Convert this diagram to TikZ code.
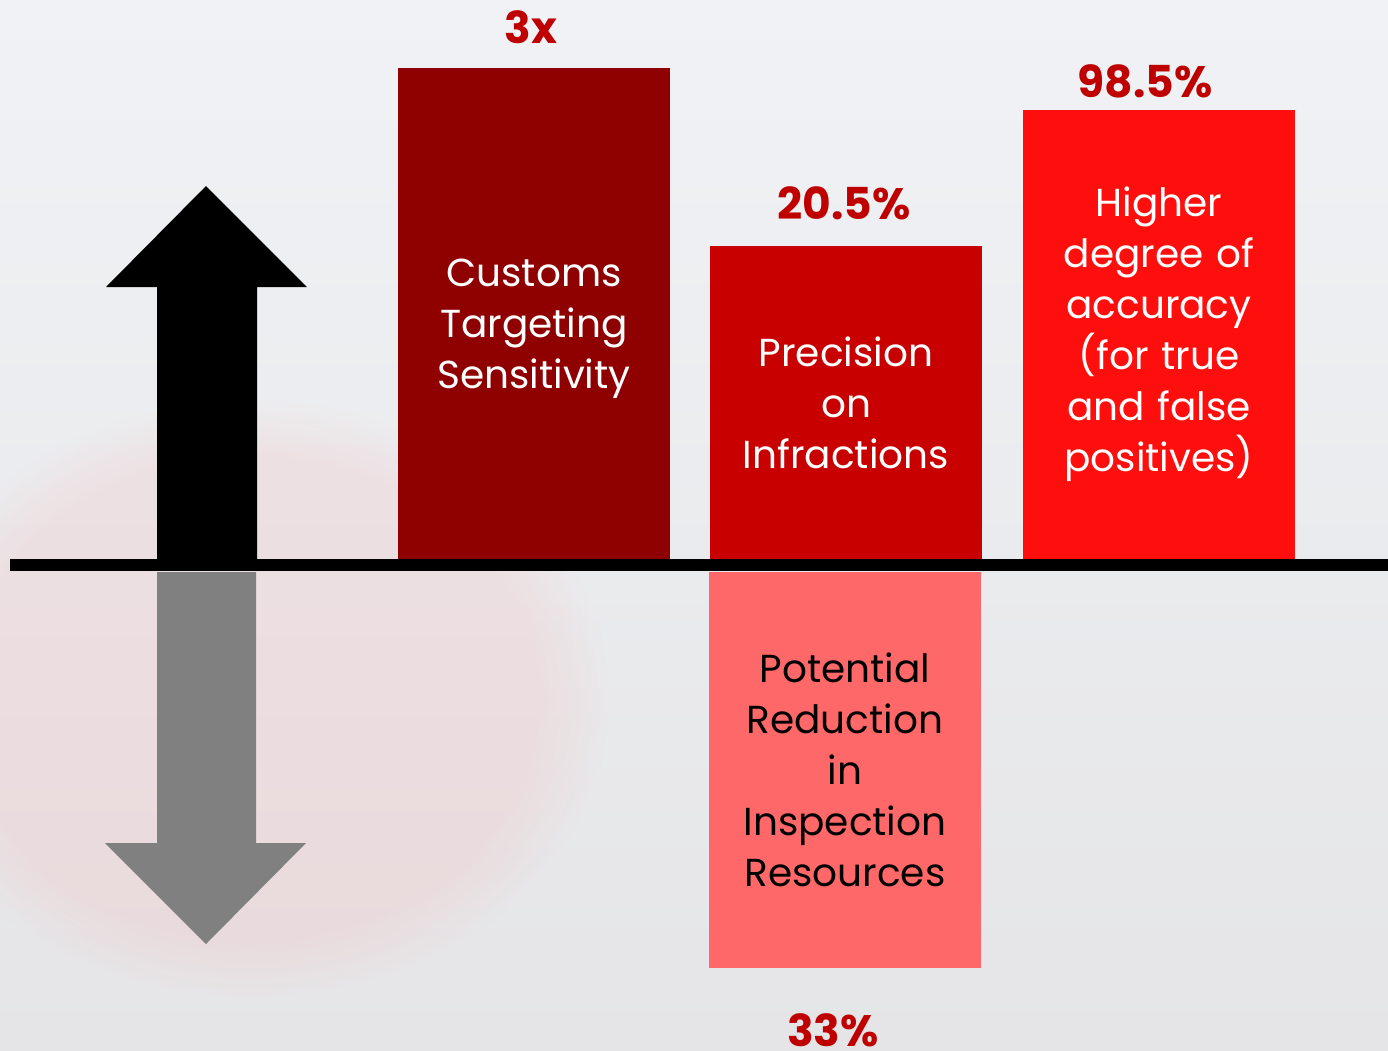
\documentclass[tikz,border=0pt]{standalone}
\usepackage{fontspec}
\setmainfont{Poppins}
\usetikzlibrary{positioning,fadings}
\definecolor{barA}{RGB}{143,0,0}
\definecolor{barB}{RGB}{200,0,0}
\definecolor{barC}{RGB}{255,14,14}
\definecolor{barD}{RGB}{255,104,104}
\definecolor{valred}{RGB}{190,0,0}
\definecolor{bgtop}{RGB}{240,242,245}
\definecolor{bgbot}{RGB}{229,229,231}

\begin{document}
\begin{tikzpicture}[x=1pt,y=-1pt]
       \tikzset{bar/.style={rectangle, minimum width=272pt, inner sep=0pt,
                align=center, text width=268pt, text=white,
                font=\fontsize{39}{51}\selectfont}}
       \tikzset{value/.style={anchor=base, text=valred,
                font=\fontsize{44}{50}\selectfont\bfseries}}

        \useasboundingbox (0,0) rectangle (1388,1050);
        \shade[top color=bgtop, bottom color=bgbot] (0,0) rectangle (1388,1050);
        \fill[red!40, opacity=0.14, path fading=circle with fuzzy edge 20 percent] (250,700) ellipse (360pt and 300pt);

        % bars above the line
        \node[bar, fill=barA, minimum height=491pt, text height=58pt] (sens) at (534,313.5) {Customs\\Targeting\\Sensitivity};
        \node[bar, fill=barB, minimum height=313pt] (prec) at (846,402.5) {Precision\\on\\Infractions};
        \node[bar, fill=barC, minimum height=449pt] (accu) at (1159,334.5) {Higher\\degree of\\accuracy\\(for true\\and false\\positives)};
        % bar below the line
        \node[bar, fill=barD, minimum height=396pt, text=black] (redu) at (845,770) {Potential\\Reduction\\in\\Inspection\\Resources};

        \node[value] (sensval) at (531,43) {3x};
        \node[value] (precval) at (844,219) {20.5\%};
        \node[value] (accuval) at (1145,97) {98.5\%};
        \node[value] (reduval) at (833,1046) {33\%};

        % up and down arrows
        \fill[black] (157,559) -- (157,287) -- (106,287) -- (206,186) -- (307,287) -- (257,287) -- (257,559) -- cycle;
        \fill[black!50] (157,572) -- (157,843) -- (105,843) -- (206,944) -- (306,843) -- (256,843) -- (256,572) -- cycle;

        \coordinate (axisL) at (10,565);
        \coordinate (axisR) at (1388,565);
        \draw[line width=12pt] (axisL) -- (axisR);
   \end{tikzpicture}
\end{document}
